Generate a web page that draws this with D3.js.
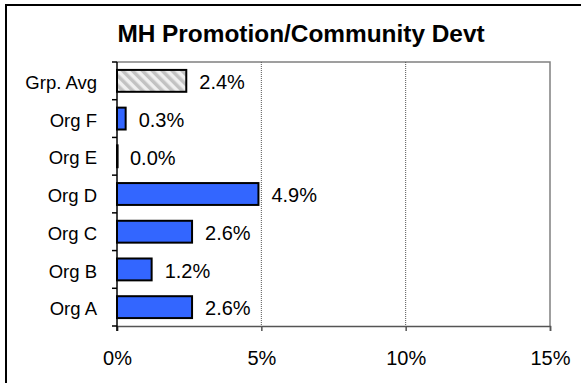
<!DOCTYPE html>
<html>
<head>
<meta charset="utf-8">
<script src="https://cdn.jsdelivr.net/npm/d3@7"></script>
<style>
  html, body { margin: 0; padding: 0; background: #fff; }
  svg { display: block; font-family: "Liberation Sans", Arial, sans-serif; }
</style>
</head>
<body>
<svg id="chart" width="581" height="383"></svg>
<script>
// Share of spending on MH promotion / community development, by organisation
const categories = ["Grp. Avg", "Org F", "Org E", "Org D", "Org C", "Org B", "Org A"];
const values = [2.4, 0.3, 0.0, 4.9, 2.6, 1.2, 2.6];
const valueLabels = ["2.4%", "0.3%", "0.0%", "4.9%", "2.6%", "1.2%", "2.6%"];
const xTicks = [0, 5, 10, 15];
const xTickLabels = ["0%", "5%", "10%", "15%"];
const title = "MH Promotion/Community Devt";

const svg = d3.select("#chart");
const plot = { left: 117, top: 62, right: 550, bottom: 326 };

// Outer chart frame
svg.append("rect")
  .attr("x", 6).attr("y", 5)
  .attr("width", 600).attr("height", 400)
  .attr("fill", "#fff").attr("stroke", "#000").attr("stroke-width", 2);

// Diagonal hatch pattern for the group average bar
const defs = svg.append("defs");
const pat = defs.append("pattern")
  .attr("id", "hatch").attr("patternUnits", "userSpaceOnUse")
  .attr("width", 7).attr("height", 7)
  .attr("patternTransform", "rotate(-45)");
pat.append("rect").attr("width", 7).attr("height", 7).attr("fill", "#f0f0f0");
pat.append("rect").attr("x", 0).attr("width", 3.5).attr("height", 7).attr("fill", "#c2c2c2");

const x = d3.scaleLinear().domain([0, 15]).range([plot.left, plot.right]);
const y = d3.scaleBand().domain(categories).range([plot.top, plot.bottom]).paddingInner(0.42).paddingOuter(0.21);
const yb = d3.scaleBand().domain(categories).range([plot.top, plot.bottom]);

// Title
svg.append("text")
  .attr("x", 301).attr("y", 42)
  .attr("text-anchor", "middle")
  .attr("font-weight", "bold").attr("font-size", 24.4)
  .text(title);

// Plot area frame (top and right edges)
svg.append("path")
  .attr("d", `M${plot.left},${plot.top}H${plot.right}V${plot.bottom}`)
  .attr("fill", "none").attr("stroke", "#808080").attr("stroke-width", 1.5);

// Dotted vertical gridlines
svg.append("g").selectAll("line")
  .data(xTicks.filter(t => t > 0 && t < 15))
  .join("line")
  .attr("x1", d => x(d)).attr("x2", d => x(d))
  .attr("y1", plot.top).attr("y2", plot.bottom)
  .attr("stroke", "#555").attr("stroke-width", 1)
  .attr("stroke-dasharray", "1,1");

// Bars
svg.append("g").selectAll("rect")
  .data(categories)
  .join("rect")
  .attr("x", x(0))
  .attr("y", d => y(d))
  .attr("width", (d, i) => Math.max(x(values[i]) - x(0), 0.6))
  .attr("height", y.bandwidth())
  .attr("fill", (d, i) => i === 0 ? "url(#hatch)" : "#3366ff")
  .attr("stroke", "#000").attr("stroke-width", 2);

// Value labels
svg.append("g").selectAll("text")
  .data(categories)
  .join("text")
  .attr("x", (d, i) => x(values[i]) + 13)
  .attr("y", d => yb(d) + yb.bandwidth() / 2 + 8.3)
  .attr("font-size", 20)
  .text((d, i) => valueLabels[i]);

// X axis
const xAxis = svg.append("g")
  .attr("transform", `translate(0,${plot.bottom})`)
  .call(d3.axisBottom(x).tickValues(xTicks).tickSize(5).tickPadding(0)
    .tickFormat((d, i) => xTickLabels[i]));
xAxis.select(".domain").attr("stroke", "#555").attr("stroke-width", 1.5);
xAxis.selectAll(".tick line").attr("stroke", "#555").attr("stroke-width", 1.5);
xAxis.selectAll("text")
  .attr("y", 39).attr("dy", null)
  .attr("font-size", 20).attr("fill", "#000")
  .attr("font-family", "Liberation Sans, Arial, sans-serif");

// Y axis: category labels with ticks at band boundaries
svg.append("g").selectAll("text")
  .data(categories)
  .join("text")
  .attr("x", 97)
  .attr("y", d => yb(d) + yb.bandwidth() / 2 + 8.2)
  .attr("text-anchor", "end")
  .attr("font-size", 18.5)
  .text(d => d);

const bounds = categories.map(c => yb(c)).concat([plot.bottom]);
svg.append("g").selectAll("line")
  .data(bounds)
  .join("line")
  .attr("x1", plot.left - 5).attr("x2", plot.left)
  .attr("y1", d => d).attr("y2", d => d)
  .attr("stroke", "#000").attr("stroke-width", 1.5);
svg.append("line")
  .attr("x1", plot.left).attr("x2", plot.left)
  .attr("y1", plot.top).attr("y2", plot.bottom + 5)
  .attr("stroke", "#000").attr("stroke-width", 1.5);
</script>
</body>
</html>
